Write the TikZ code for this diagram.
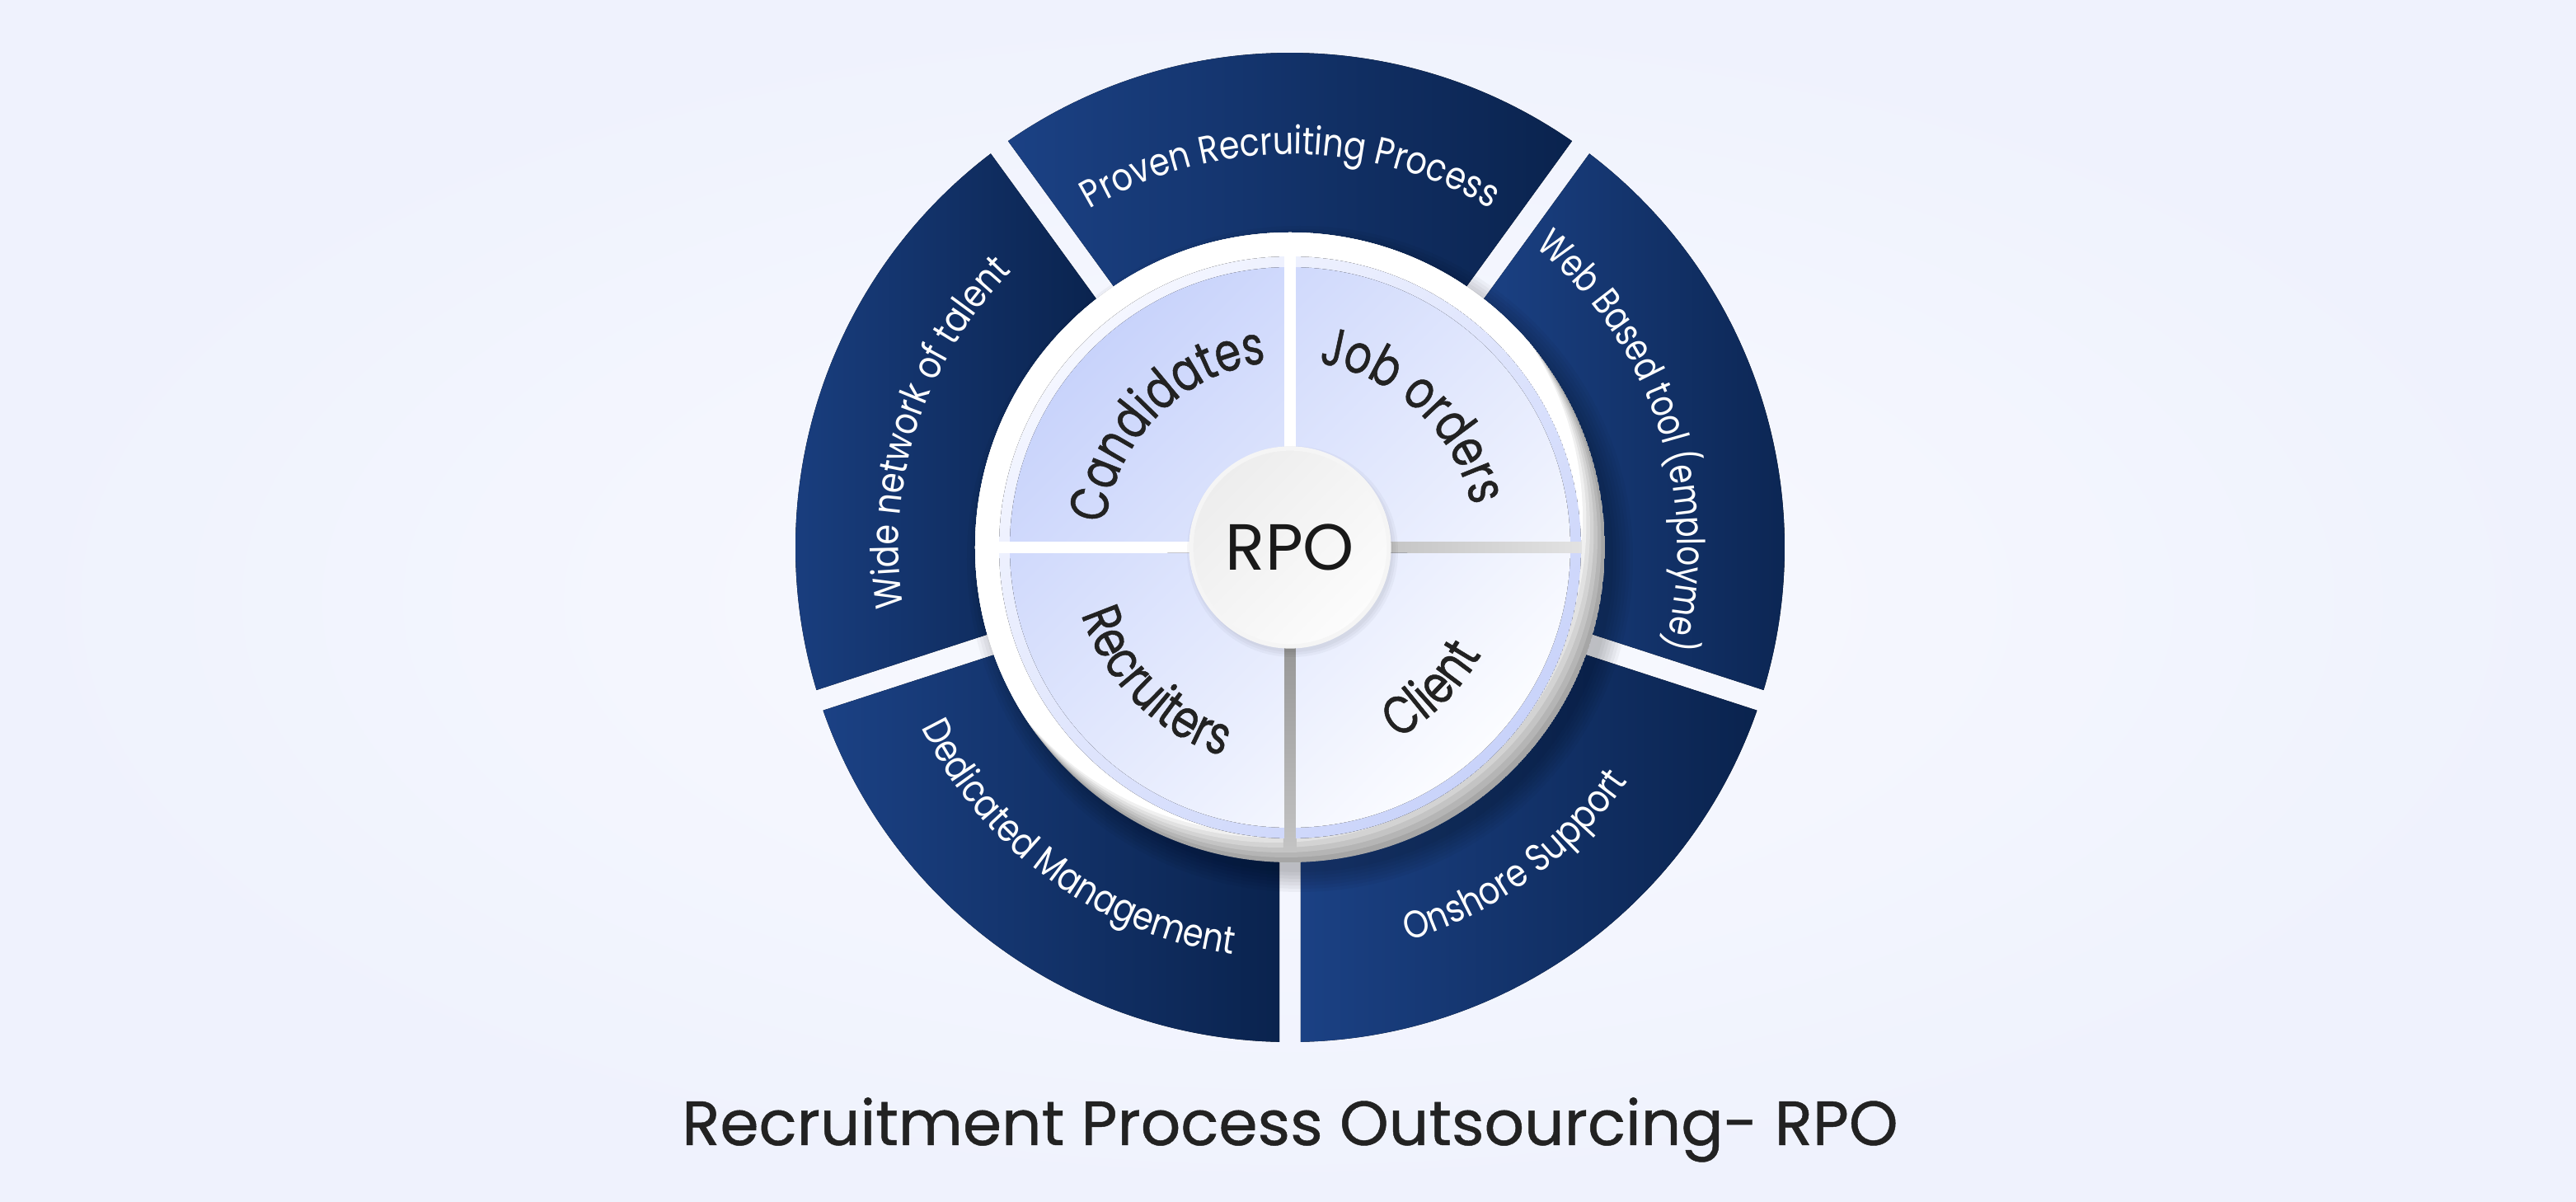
\documentclass[tikz,border=0pt]{standalone}
\usepackage{fontspec}
\setmainfont{Poppins}
\newfontfamily\popmed{Poppins}[FakeBold=0.6]
\newfontfamily\popnarrow{Poppins}[FakeBold=0.8, FakeStretch=0.78]
\newfontfamily\popring{Poppins}[FakeStretch=0.85]
\newfontfamily\popringn{Poppins}[FakeStretch=0.8]
\usepackage{tikz}
\usepackage{xcolor}
\usetikzlibrary{decorations.text}

\definecolor{bgin}{HTML}{F9FAFF}
\definecolor{bgout}{HTML}{EFF2FD}
\definecolor{segL}{HTML}{1B4184}
\definecolor{segR}{HTML}{0A234E}
\definecolor{quadA}{HTML}{C8D3FB}
\definecolor{quadB}{HTML}{FBFCFF}
\definecolor{rimA}{HTML}{F4F6FF}
\definecolor{rimB}{HTML}{C9D3FA}
\definecolor{greyC}{HTML}{E2E2E2}
\definecolor{greyA}{HTML}{C4C4C4}
\definecolor{greyB}{HTML}{A6A6A6}
\definecolor{rpoA}{HTML}{EDEDED}
\definecolor{rpoB}{HTML}{FCFCFC}
\definecolor{inkdark}{HTML}{222222}

\tikzset{
  segment/.style={left color=segL, right color=segR},
  ringtext/.style={decorate, decoration={text along path, text align=center, text color=white,
      text={|\popring\fontsize{13.3}{15}\selectfont|#1}}},
  ringtextn/.style={decorate, decoration={text along path, text align=center, text color=white,
      text={|\popringn\fontsize{13.3}{15}\selectfont|#1}}},
  quadtext/.style={decorate, decoration={text along path, text align=center, text color=inkdark,
      text={|\popnarrow\fontsize{18.5}{21}\selectfont|#1}}},
}

\begin{document}
\begin{tikzpicture}
		% Background, also fixes the page size
		\fill[inner color=bgin, outer color=bgout] (-15.65,-7.94) rectangle (15.60,6.64);
		\useasboundingbox (-15.65,-7.94) rectangle (15.60,6.64);

		% Outer ring segments, gaps at 54, 126, 198, 270 and 342 degrees
		\fill[segment] (55.99:3.7) -- (55.24:6) arc[start angle=55.24, end angle=124.76, radius=6] -- (123.99:3.7) arc[start angle=123.99, end angle=55.99, radius=3.7] -- cycle;  % top
		\fill[segment] (128.01:3.7) -- (127.24:6) arc[start angle=127.24, end angle=196.76, radius=6] -- (195.99:3.7) arc[start angle=195.99, end angle=128.01, radius=3.7] -- cycle;  % upper left
		\fill[segment] (200.01:3.7) -- (199.24:6) arc[start angle=199.24, end angle=268.76, radius=6] -- (267.99:3.7) arc[start angle=267.99, end angle=200.01, radius=3.7] -- cycle;  % lower left
		\fill[segment] (272.01:3.7) -- (271.24:6) arc[start angle=271.24, end angle=340.76, radius=6] -- (339.99:3.7) arc[start angle=339.99, end angle=272.01, radius=3.7] -- cycle;  % lower right
		\fill[segment] (344.01:3.7) -- (343.24:6) arc[start angle=343.24, end angle=412.76, radius=6] -- (411.99:3.7) arc[start angle=411.99, end angle=344.01, radius=3.7] -- cycle;  % upper right

		% Soft shadow under the white disk
		\foreach \r in {3.80,3.84,...,4.04}
			\fill[black, opacity=0.035] (0.12,-0.14) circle (\r);

		% White disk, grey towards the lower right
		\begin{scope}
			\clip (0,0) circle (3.82);
			\foreach \s in {0,...,6} {
				\pgfmathsetmacro\shade{100-\s*100/6}
				\fill[greyB!\shade!white] (-0.045*\s,0.06*\s) circle (3.82);
			}
		\end{scope}

		% Grey gaps right and below the centre
		\fill[left color=greyA, right color=greyC] (1.1,-0.08) rectangle (3.54,0.08);
		\fill[top color=greyB!90!black, bottom color=greyA] (-0.08,-1.1) rectangle (0.08,-3.7);

		% Four quadrants with their rim
		\begin{scope}
			\clip (0.07,0.07) -- (1.14:3.53) arc[start angle=1.14, end angle=88.86, radius=3.53] -- cycle
			      (-0.07,0.07) -- (91.14:3.53) arc[start angle=91.14, end angle=178.86, radius=3.53] -- cycle
			      (-0.07,-0.07) -- (181.14:3.53) arc[start angle=181.14, end angle=268.86, radius=3.53] -- cycle
			      (0.07,-0.07) -- (271.14:3.53) arc[start angle=271.14, end angle=358.86, radius=3.53] -- cycle;
			\fill[top color=rimA, bottom color=rimB, shading angle=45] (0,0) circle (3.53);
			\fill[top color=quadA, bottom color=quadB, shading angle=45] (0,0) circle (3.40);
		\end{scope}

		% Centre circle
		\foreach \r in {1.22,1.25,1.28}
			\fill[black, opacity=0.03] (0.03,-0.05) circle (\r);
		\node[circle, minimum size=2.4cm, inner sep=0pt, top color=rpoA, bottom color=rpoB, shading angle=45,
		      draw=white!96!black, line width=1.5pt, font=\fontsize{22.5}{26}\selectfont, text=black!90] (rpo) at (0,0) {RPO};

		% Texts along the outer ring
		\path[ringtext={Proven Recruiting Process}] (135:4.77) arc[start angle=135, end angle=45, radius=4.77];
		\path[ringtextn={Web Based tool (employme)}] (63:4.70) arc[start angle=63, end angle=-27, radius=4.70];
		\path[ringtext={Wide network of talent}] (207:4.75) arc[start angle=207, end angle=117, radius=4.75];
		\path[ringtext={Dedicated Management}] (189:4.98) arc[start angle=189, end angle=279, radius=4.98];
		\path[ringtext={Onshore Support}] (261:4.98) arc[start angle=261, end angle=351, radius=4.98];

		% Texts in the quadrants
		\path[quadtext={Candidates}] (185:2.26) arc[start angle=185, end angle=85, radius=2.26];
		\path[quadtext={Job orders}] (97:2.26) arc[start angle=97, end angle=-3, radius=2.26];
		\path[quadtext={Recruiters}] (175:2.66) arc[start angle=175, end angle=275, radius=2.66];
		\path[quadtext={Client}] (265:2.66) arc[start angle=265, end angle=365, radius=2.66];

		% Title
		\node[font=\popmed\fontsize{21.6}{25}\selectfont, text=inkdark, anchor=base] (title) at (0,-7.25) {Recruitment Process Outsourcing- RPO};
	\end{tikzpicture}
\end{document}
